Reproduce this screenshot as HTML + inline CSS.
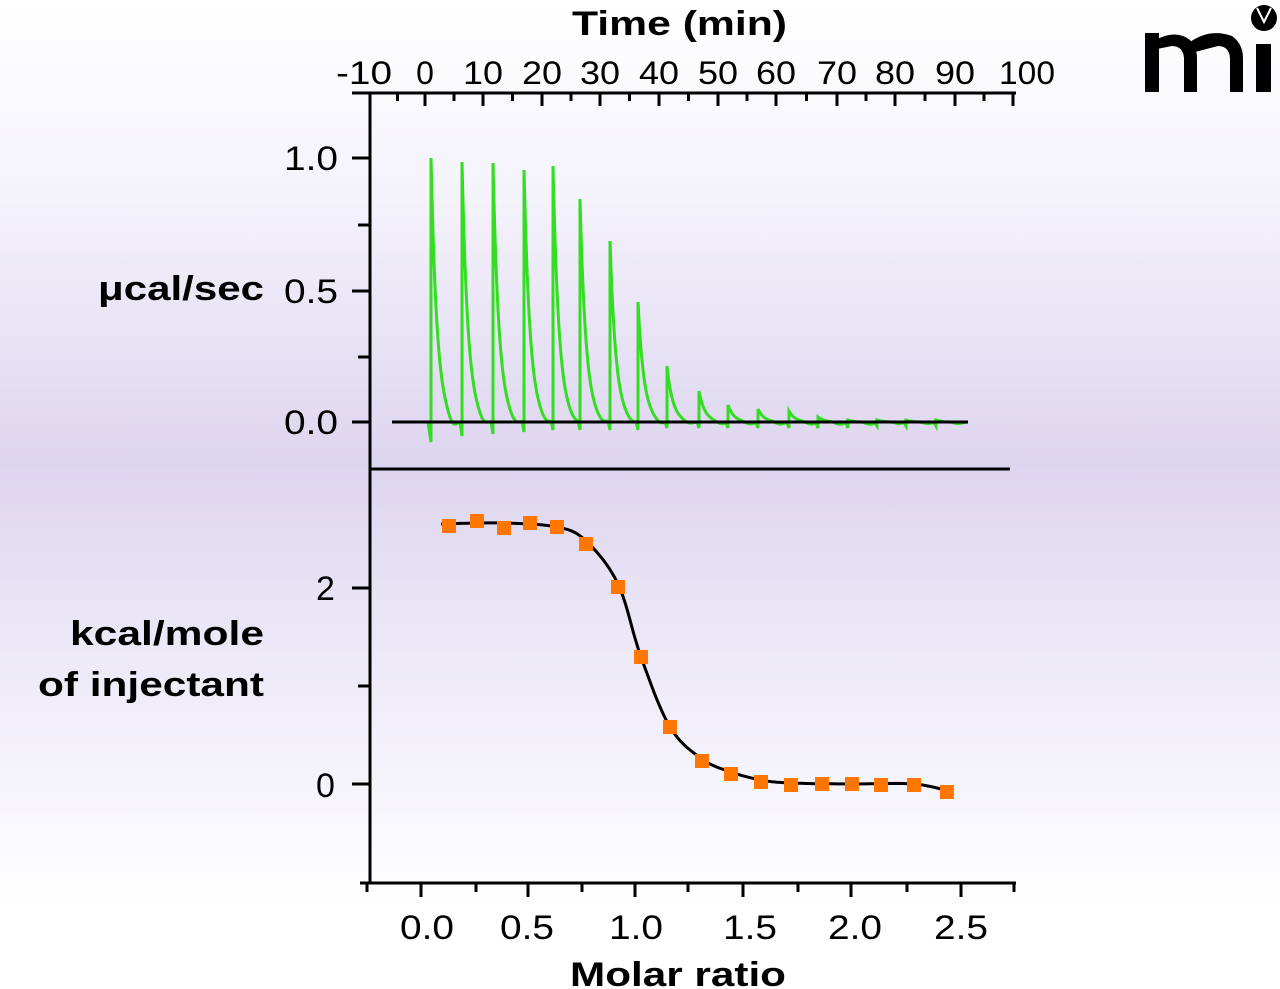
<!DOCTYPE html>
<html><head><meta charset="utf-8"><style>
html,body{margin:0;padding:0}
body{width:1280px;height:989px;overflow:hidden;background:linear-gradient(to bottom,#ffffff 0%,#f4f2fb 20%,#ddd5ef 47%,#ece8f7 65%,#ffffff 92%,#ffffff 100%)}
svg{position:absolute;left:0;top:0}
text{font-family:"Liberation Sans",sans-serif;fill:#000}
</style></head><body>
<svg id="s" width="1280" height="989" viewBox="0 0 1280 989">
<g stroke="#000" stroke-width="3" fill="none">
<line x1="352" y1="93" x2="1016" y2="93"/>
<line x1="370" y1="93" x2="370" y2="883"/>
<line x1="370" y1="469" x2="1010" y2="469"/>
<line x1="360" y1="883" x2="1016" y2="883"/>
</g>
<g id="ticks" stroke="#000" stroke-width="3"></g>
<g font-size="34" lengthAdjust="spacingAndGlyphs">
<text x="572" y="35" font-weight="bold" textLength="215" lengthAdjust="spacingAndGlyphs">Time (min)</text>
<text x="570" y="986" font-weight="bold" textLength="216" lengthAdjust="spacingAndGlyphs">Molar ratio</text>
<text x="98" y="300" font-weight="bold" textLength="166" lengthAdjust="spacingAndGlyphs">μcal/sec</text>
<text x="70" y="645" font-weight="bold" textLength="194" lengthAdjust="spacingAndGlyphs">kcal/mole</text>
<text x="38" y="696" font-weight="bold" textLength="226" lengthAdjust="spacingAndGlyphs">of injectant</text>
<text x="284" y="170" textLength="54" lengthAdjust="spacingAndGlyphs">1.0</text>
<text x="284" y="303" textLength="54" lengthAdjust="spacingAndGlyphs">0.5</text>
<text x="284" y="434" textLength="54" lengthAdjust="spacingAndGlyphs">0.0</text>
<text x="316" y="600">2</text>
<text x="316" y="797">0</text>
</g>
<g id="toplab" font-size="32" text-anchor="middle"></g>
<g id="botlab" font-size="34" text-anchor="middle"></g>
<path id="green" stroke="#33dd22" stroke-width="3" fill="none"/>
<line x1="392" y1="422" x2="968" y2="422" stroke="#000" stroke-width="3"/>
<path id="fit" stroke="#000" stroke-width="3" fill="none"/>
<g id="pts" fill="#ff7700"></g>
<g fill="#000">
<rect x="1145" y="33" width="14" height="59"/>
<path d="M1152 42 Q1175 28 1190 40 Q1197 48 1197 58 L1197 92 L1184 92 L1184 58 Q1183 46 1172 46 L1152 50 Z"/>
<path d="M1190 42 Q1210 28 1232 36 Q1243 44 1243 58 L1243 92 L1230 92 L1230 58 Q1229 46 1218 46 L1195 52 Z"/>
<rect x="1256" y="44" width="15" height="48"/>
<circle cx="1264" cy="18" r="13"/>
</g>
<path d="M1257 8 L1264 22 L1271 8" stroke="#fff" stroke-width="2" fill="none"/>
</svg>
<script>
var NS="http://www.w3.org/2000/svg";
function el(p,t,a,txt){var e=document.createElementNS(NS,t);for(var k in a)e.setAttribute(k,a[k]);if(txt!==undefined)e.textContent=txt;document.getElementById(p).appendChild(e);}
var tx=[370,425,483,542,600,659,718,776,837,895,955,1013];
var labs=["-10","0","10","20","30","40","50","60","70","80","90","100"];
for(var i=0;i<tx.length;i++){el("ticks","line",{x1:tx[i],y1:93,x2:tx[i],y2:106});
 var a={x:tx[i]-(i==0?6:0)+(i==11?14:0),y:84};
 if(labs[i].length==2)a.textLength=40,a.lengthAdjust="spacingAndGlyphs";
 if(labs[i].length==3)a.textLength=56,a.lengthAdjust="spacingAndGlyphs";
 el("toplab","text",a,labs[i]);
 if(i<11){var m=(tx[i]+tx[i+1])/2;el("ticks","line",{x1:m,y1:93,x2:m,y2:101});}}
[158,291,422,588,784].forEach(function(y){el("ticks","line",{x1:352,y1:y,x2:370,y2:y});});
[225,357,686].forEach(function(y){el("ticks","line",{x1:358,y1:y,x2:370,y2:y});});
var bx=[367,421,476,528,582,635,688,743,798,851,907,961,1014];
for(var i=0;i<bx.length;i++){var maj=(i%2==1);el("ticks","line",{x1:bx[i],y1:883,x2:bx[i],y2:maj?897:892});}
var bl=["0.0","0.5","1.0","1.5","2.0","2.5"],bc=[427,527,636,750,855,961];
for(var i=0;i<6;i++)el("botlab","text",{x:bc[i],y:939,textLength:54,lengthAdjust:"spacingAndGlyphs"},bl[i]);
var px=[431,462,493,524,553,580,610,638,667,699,728,758,789,818,848,877,906,936];
var py=[158,162,163,170,166,199,241,302,366,391,405,409,411,417,420,420,420,420];
var dip=[20,14,12,10,8,8,8,8,6,6,6,6,6,6,6,4,4,4];
var d="M392 422 L"+(px[0]-3)+" 422";
for(var i=0;i<px.length;i++){var x0=px[i];var h=422-py[i];
 d+=" L"+x0+" "+(422+dip[i])+" L"+x0+" "+py[i];
 var end=(i<px.length-1?px[i+1]-2:967);
 for(var x=x0+1;x<=end;x++){var y=422-h*Math.exp(-(x-x0)/6)+dip[i]*0.4*Math.exp(-Math.pow((x-x0-22)/6,2));d+=" L"+x+" "+y.toFixed(1);}
}
document.getElementById("green").setAttribute("d",d);
var P=[[449,526],[477,521],[504,528],[530,523],[557,527],[586,544],[618,587],[641,657],[670,727],[702,761],[731,774],[761,782],[791,785],[822,784],[852,784],[881,785],[914,785],[947,792]];
P.forEach(function(p){el("pts","rect",{x:p[0]-7,y:p[1]-7,width:14,height:14});});
var C=[[441,524],[500,523],[557,527],[586,541],[618,584],[641,657],[670,727],[702,759],[731,772],[761,780],[791,783],[850,784],[914,784],[952,792]];
var f="M"+C[0][0]+" "+C[0][1];
for(var i=0;i<C.length-1;i++){var p0=C[Math.max(0,i-1)],p1=C[i],p2=C[i+1],p3=C[Math.min(C.length-1,i+2)];
 for(var t=0.1;t<=1.0001;t+=0.1){var t2=t*t,t3=t2*t;
  var x=0.5*(2*p1[0]+(-p0[0]+p2[0])*t+(2*p0[0]-5*p1[0]+4*p2[0]-p3[0])*t2+(-p0[0]+3*p1[0]-3*p2[0]+p3[0])*t3);
  var y=0.5*(2*p1[1]+(-p0[1]+p2[1])*t+(2*p0[1]-5*p1[1]+4*p2[1]-p3[1])*t2+(-p0[1]+3*p1[1]-3*p2[1]+p3[1])*t3);
  f+=" L"+x.toFixed(1)+" "+y.toFixed(1);}}
document.getElementById("fit").setAttribute("d",f);
</script>
</body></html>
